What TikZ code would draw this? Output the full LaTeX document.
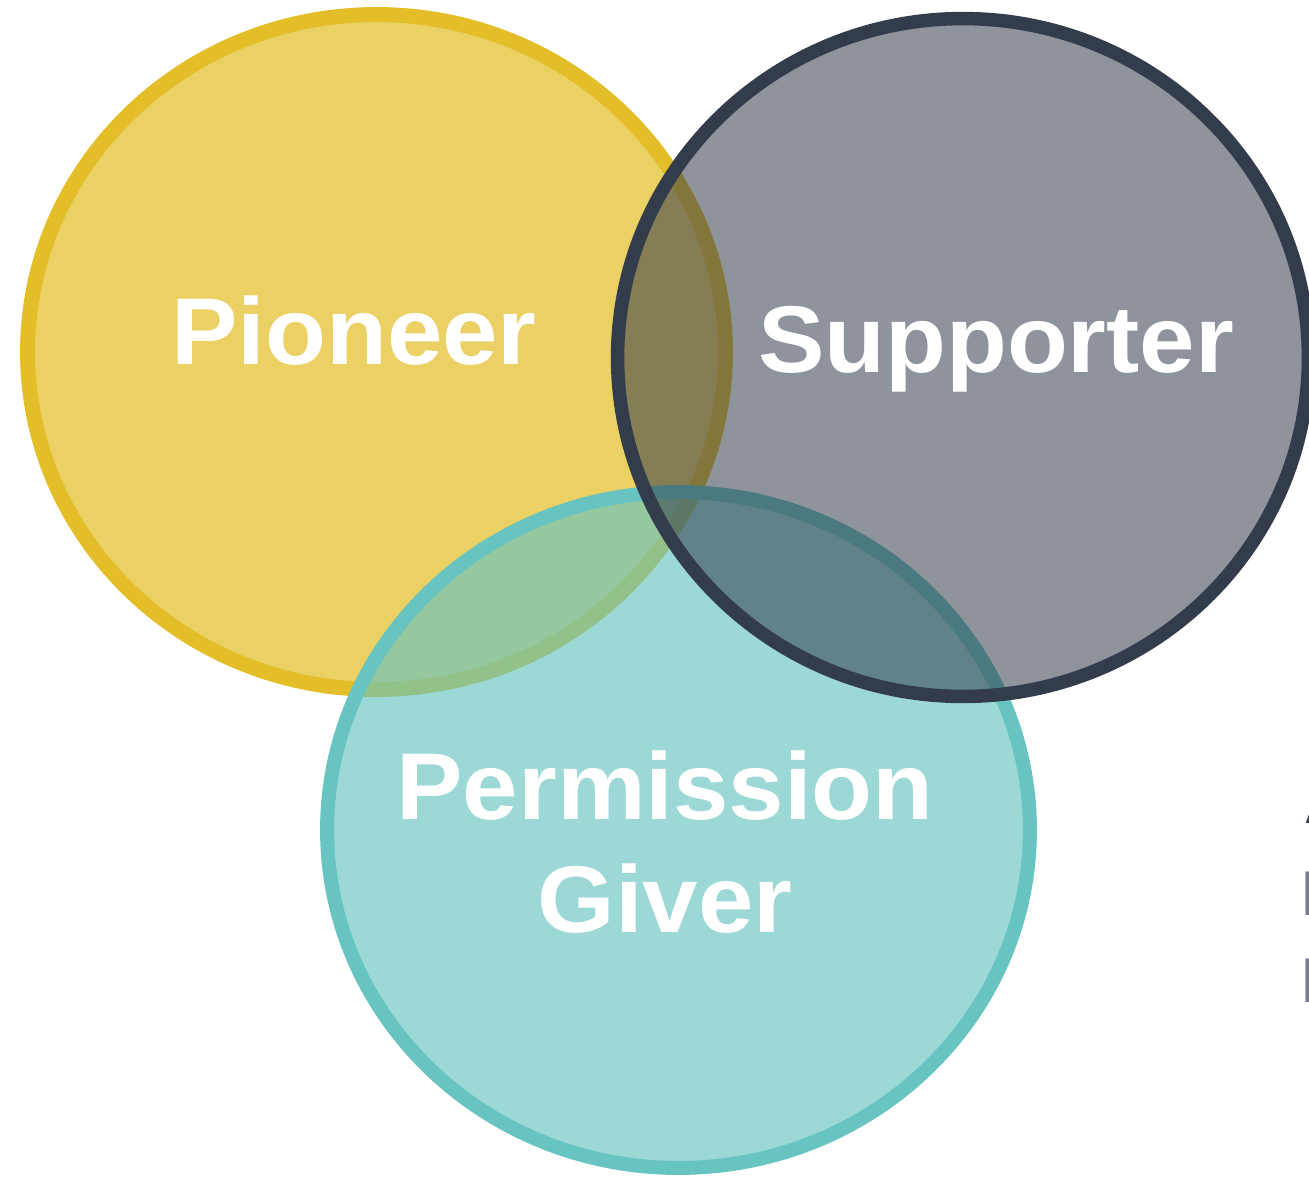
\documentclass[tikz,border=0pt]{standalone}
\usepackage{fontspec}
\setmainfont{Liberation Sans}[FakeStretch=1.05]
\definecolor{pioneeryellow}{HTML}{E4BE28}
\definecolor{giverteal}{HTML}{68C4C0}
\definecolor{supporterslate}{HTML}{323C4B}
\definecolor{edgegray}{HTML}{7A7E90}
\begin{document}
\begin{tikzpicture}[
        x=0.02cm, y=-0.02cm,
        pioneerring/.style={draw=pioneeryellow, fill=pioneeryellow, fill opacity=0.72, line width=0.3cm},
        giverring/.style={draw=giverteal, fill=giverteal, fill opacity=0.65, line width=0.28cm},
        supporterring/.style={draw=supporterslate, fill=supporterslate, fill opacity=0.55, line width=0.27cm},
        rolename/.style={text=white, inner sep=0pt, font=\fontsize{54}{64}\selectfont\bfseries},
        fragment/.style={inner sep=0pt, anchor=base west, font=\fontsize{36}{44}\selectfont\bfseries},
    ]
    \fill[white] (0,0) rectangle (1309,1177);
    \useasboundingbox (0,0) rectangle (1309,1177);

    % the three rings, back to front
    \path[pioneerring] (376.5,352) ellipse [x radius=6.98cm, y radius=6.75cm];
    \path[giverring] (678.5,830) ellipse [x radius=7.03cm, y radius=6.76cm];
    \path[supporterring] (963,357.5) ellipse [x radius=6.91cm, y radius=6.78cm];

    \node[rolename, anchor=base] (pioneer) at (354,364) {Pioneer};
    \node[rolename, anchor=base] (supporter) at (996,372) {Supporter};
    \node[rolename, align=center] (giver) at (665,842) {Permission\\Giver};

    % text cut off by the right edge
    \node[fragment, text=supporterslate] (fraga) at (1304,823) {A};
    \node[fragment, text=edgegray] (fragb) at (1301,915) {I};
    \node[fragment, text=edgegray] (fragc) at (1301,1002) {I};
\end{tikzpicture}
\end{document}
